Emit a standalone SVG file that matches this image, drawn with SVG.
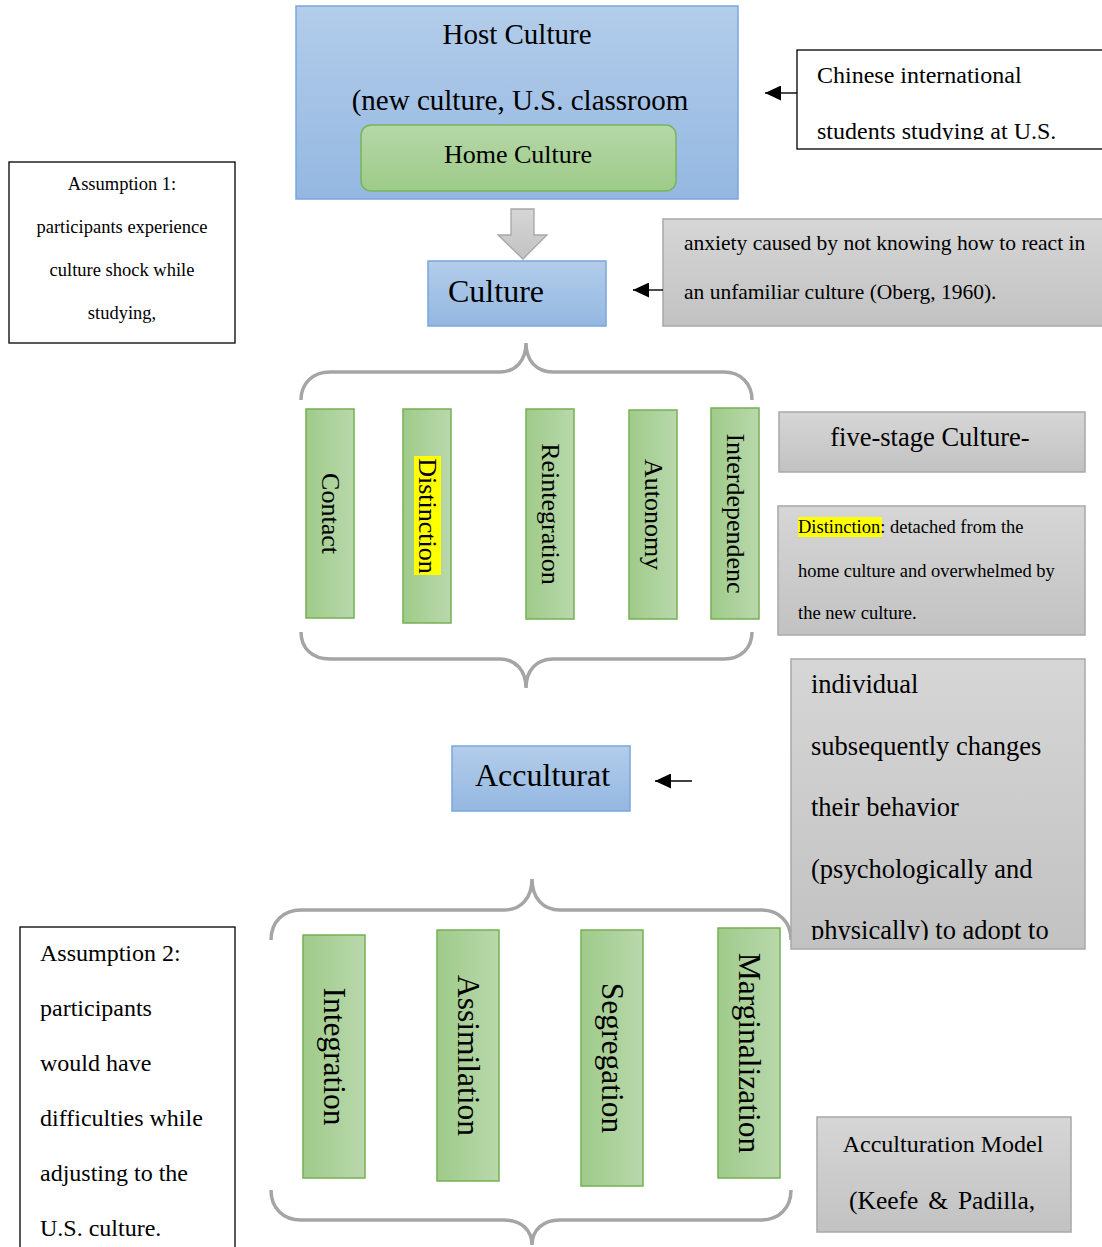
<svg xmlns="http://www.w3.org/2000/svg" width="1102" height="1247" viewBox="0 0 1102 1247">
<defs>
  <linearGradient id="blueG" x1="0" y1="0" x2="0" y2="1">
    <stop offset="0" stop-color="#b3cdea"/>
    <stop offset="1" stop-color="#94b7e1"/>
  </linearGradient>
  <linearGradient id="greenV" x1="0" y1="0" x2="0" y2="1">
    <stop offset="0" stop-color="#b6d7a8"/>
    <stop offset="1" stop-color="#9dcb88"/>
  </linearGradient>
  <linearGradient id="greenH" x1="0" y1="0" x2="1" y2="0">
    <stop offset="0" stop-color="#9fcb8a"/>
    <stop offset="1" stop-color="#b9d8ac"/>
  </linearGradient>
  <linearGradient id="grayG" x1="0" y1="0" x2="0" y2="1">
    <stop offset="0" stop-color="#d6d6d6"/>
    <stop offset="1" stop-color="#c2c2c2"/>
  </linearGradient>
  <marker id="ah" markerUnits="userSpaceOnUse" markerWidth="16" markerHeight="15" refX="16" refY="7.5" orient="auto">
    <path d="M0,0 L16,7.5 L0,15 Z" fill="#000"/>
  </marker>
  <clipPath id="clipChinese"><rect x="797" y="50" width="305" height="90"/></clipPath>
  <clipPath id="clipIndiv"><rect x="791" y="659" width="294" height="281"/></clipPath>
</defs>
<style>
  text { font-family: "Liberation Serif", "Times New Roman", serif; fill: #000; }
  .blue { fill: url(#blueG); stroke: #7aa7dc; stroke-width: 1.5; }
  .stage { fill: url(#greenH); stroke: #75b052; stroke-width: 1.5; }
  .gray { fill: url(#grayG); stroke: #a8a8a8; stroke-width: 1.5; }
  .plain { fill: #fff; stroke: #000; stroke-width: 1.3; }
  .brace { fill: none; stroke: #a5a5a5; stroke-width: 3.5; }
  .conn { stroke: #000; stroke-width: 1.4; fill: none; }
  .vt { font-size: 26px; text-anchor: middle; }
  .vb { font-size: 31.5px; text-anchor: middle; }
  .a1 { font-size: 18.5px; text-anchor: middle; }
</style>
<rect width="1102" height="1247" fill="#fff"/>

<g id="host-culture">
  <rect class="blue" x="296" y="6" width="442" height="193"/>
  <text x="517" y="44" font-size="29" text-anchor="middle">Host Culture</text>
  <text x="520" y="110" font-size="29" text-anchor="middle">(new culture, U.S. classroom</text>
</g>
<g id="home-culture">
  <rect x="361" y="125" width="315" height="66" rx="10" fill="url(#greenV)" stroke="#77b55a" stroke-width="1.5"/>
  <text x="518" y="163" font-size="26" text-anchor="middle">Home Culture</text>
</g>

<g id="chinese-students">
  <rect class="plain" x="797" y="50" width="320" height="99"/>
  <g clip-path="url(#clipChinese)">
    <text x="817" y="83" font-size="24">Chinese international</text>
    <text x="817" y="139" font-size="24">students studying at U.S.</text>
  </g>
</g>

<g id="assumption-1">
  <rect class="plain" x="9" y="162" width="226" height="181"/>
  <text class="a1" x="122" y="190">Assumption 1:</text>
  <text class="a1" x="122" y="233">participants experience</text>
  <text class="a1" x="122" y="276">culture shock while</text>
  <text class="a1" x="122" y="319">studying,</text>
</g>

<g id="culture-shock">
  <rect class="blue" x="428" y="261" width="178" height="65"/>
  <text x="448" y="302" font-size="32">Culture</text>
</g>

<g id="anxiety">
  <rect class="gray" x="663" y="219" width="450" height="107"/>
  <text x="684" y="250" font-size="21.5">anxiety caused by not knowing how to react in</text>
  <text x="684" y="299" font-size="21.5">an unfamiliar culture (Oberg, 1960).</text>
</g>

<g id="braces">
  <path class="brace" d="M301,400 C301,384 312,372 330,372 L500,372 C516,372 526,360 526,343 C526,360 536,372 553,372 L724,372 C741,372 752,384 752,400"/>
  <path class="brace" d="M301,632 C301,648 312,659 330,659 L500,659 C516,659 526,671 526,688 C526,671 536,659 553,659 L724,659 C741,659 752,648 752,632"/>
  <path class="brace" d="M271,940 C271,922 283,910 301,910 L504,910 C521,910 532,898 532,879 C532,898 543,910 560,910 L761,910 C779,910 791,922 791,940"/>
  <path class="brace" d="M271,1190 C271,1208 283,1220 301,1220 L504,1220 C521,1220 532,1230 532,1245 C532,1230 543,1220 560,1220 L761,1220 C779,1220 791,1208 791,1190"/>
</g>

<g id="stage-contact">
  <rect class="stage" x="306" y="409" width="48" height="209"/>
  <text class="vt" x="330" y="522" transform="rotate(90 330 513.5)">Contact</text>
</g>
<g id="stage-distinction">
  <rect class="stage" x="403" y="409" width="48" height="214"/>
  <rect x="414" y="456" width="27" height="119" fill="#ffff00"/>
  <text class="vt" x="427" y="524.5" transform="rotate(90 427 516)">Distinction</text>
</g>
<g id="stage-reintegration">
  <rect class="stage" x="526" y="409" width="48" height="210"/>
  <text class="vt" x="550" y="522.5" transform="rotate(90 550 514)">Reintegration</text>
</g>
<g id="stage-autonomy">
  <rect class="stage" x="629" y="410" width="48" height="209"/>
  <text class="vt" x="653" y="523" transform="rotate(90 653 514.5)">Autonomy</text>
</g>
<g id="stage-interdependence">
  <rect class="stage" x="711" y="408" width="48" height="211"/>
  <text class="vt" x="735" y="522" transform="rotate(90 735 513.5)">Interdependenc</text>
</g>

<g id="five-stage">
  <rect class="gray" x="779" y="412" width="306" height="60"/>
  <text x="930" y="446" font-size="26.5" text-anchor="middle">five-stage Culture-</text>
</g>

<g id="distinction-def">
  <rect class="gray" x="778" y="506" width="307" height="129"/>
  <rect x="798" y="517" width="84" height="20" fill="#ffff00"/>
  <text x="798" y="533" font-size="18.5">Distinction: detached from the</text>
  <text x="798" y="577" font-size="18.5">home culture and overwhelmed by</text>
  <text x="798" y="619" font-size="18.5">the new culture.</text>
</g>

<g id="acculturation">
  <rect class="blue" x="452" y="746" width="178" height="65"/>
  <text x="475" y="786" font-size="32">Acculturat</text>
</g>

<g id="individual-def">
  <rect class="gray" x="791" y="659" width="294" height="290"/>
  <g clip-path="url(#clipIndiv)">
    <text x="811" y="693" font-size="26.5">individual</text>
    <text x="811" y="755" font-size="26.5">subsequently changes</text>
    <text x="811" y="816" font-size="26.5">their behavior</text>
    <text x="811" y="878" font-size="26.5">(psychologically and</text>
    <text x="811" y="939" font-size="26.5">physically) to adopt to</text>
  </g>
</g>

<g id="strategy-integration">
  <rect class="stage" x="303" y="935" width="62" height="243"/>
  <text class="vb" x="334" y="1067" transform="rotate(90 334 1056.5)">Integration</text>
</g>
<g id="strategy-assimilation">
  <rect class="stage" x="437" y="930" width="62" height="251"/>
  <text class="vb" x="468" y="1066" transform="rotate(90 468 1055.5)">Assimilation</text>
</g>
<g id="strategy-segregation">
  <rect class="stage" x="581" y="930" width="62" height="256"/>
  <text class="vb" x="612" y="1068.5" transform="rotate(90 612 1058)">Segregation</text>
</g>
<g id="strategy-marginalization">
  <rect class="stage" x="718" y="928" width="62" height="250"/>
  <text class="vb" x="749" y="1063.5" transform="rotate(90 749 1053)">Marginalization</text>
</g>

<g id="assumption-2">
  <rect class="plain" x="20" y="927" width="215" height="340"/>
  <text x="40" y="961" font-size="24">Assumption 2:</text>
  <text x="40" y="1016" font-size="24">participants</text>
  <text x="40" y="1071" font-size="24">would have</text>
  <text x="40" y="1126" font-size="24">difficulties while</text>
  <text x="40" y="1181" font-size="24">adjusting to the</text>
  <text x="40" y="1236" font-size="24">U.S. culture.</text>
</g>

<g id="acculturation-model">
  <rect class="gray" x="817" y="1117" width="254" height="115"/>
  <text x="943" y="1152" font-size="24" text-anchor="middle">Acculturation Model</text>
  <text x="849" y="1209" font-size="25.5" word-spacing="3.5">(Keefe &amp; Padilla,</text>
</g>

<g id="connectors">
  <path d="M511,209 L534,209 L534,235 L547,235 L523,259 L498,235 L511,235 Z" fill="url(#grayG)" stroke="#a6a6a6" stroke-width="1.3"/>
  <line class="conn" x1="797" y1="93" x2="765" y2="93" marker-end="url(#ah)"/>
  <line class="conn" x1="663" y1="290" x2="633" y2="290" marker-end="url(#ah)"/>
  <line class="conn" x1="692" y1="781" x2="655" y2="781" marker-end="url(#ah)"/>
</g>
</svg>
